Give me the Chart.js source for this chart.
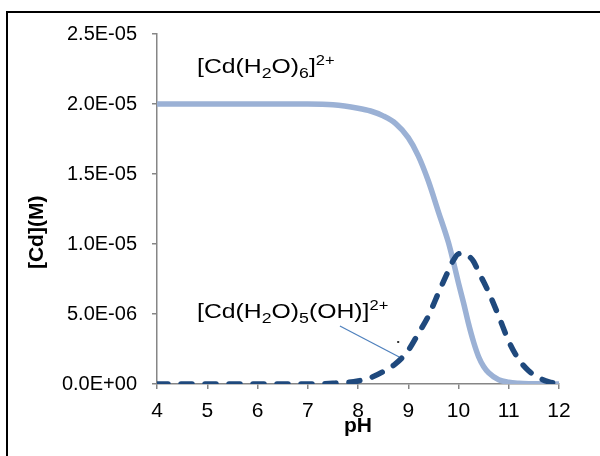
<!DOCTYPE html>
<html>
<head>
<meta charset="utf-8">
<title>Cd speciation vs pH</title>
<script src="https://cdn.jsdelivr.net/npm/chart.js@4.4.1/dist/chart.umd.min.js"></script>
<style>
  html, body { margin: 0; padding: 0; background: #fff; }
  #wrap { position: relative; width: 600px; height: 456px; overflow: hidden; }
  #frame { position: absolute; left: 6px; top: 11px; width: 700px; height: 600px; border-left: 2px solid #000; border-top: 2px solid #000; }
  canvas { position: absolute; left: 0; top: 0; }
  .lbl { position: absolute; font-family: "Liberation Sans", Arial, sans-serif; font-size: 21px; line-height: 21px; white-space: nowrap; color: #000; transform: scaleX(1.18); transform-origin: 0 0; }
  .lbl sub { font-size: 15px; vertical-align: -5px; line-height: 0; }
  .lbl sup { font-size: 14px; vertical-align: 8px; line-height: 0; }
</style>
</head>
<body>
<div id="wrap">
  <div id="frame"></div>
  <canvas id="cdChart" width="600" height="456"></canvas>
  <div class="lbl" id="lblHexa">[Cd(H<sub>2</sub>O)<sub>6</sub>]<sup>2+</sup></div>
  <div class="lbl" id="lblHydroxo">[Cd(H<sub>2</sub>O)<sub>5</sub>(OH)]<sup>2+</sup></div>
</div>
<script>
// values, concentrations in M
const phValues = [4, 5, 6, 7, 7.5, 8, 8.25, 8.5, 8.75, 9, 9.2, 9.4, 9.6, 9.8, 9.9, 10, 10.1, 10.2, 10.3, 10.4, 10.5, 10.6, 10.8, 11, 11.2, 11.4, 11.6, 11.8, 12];
const cdHexaAqua = [20.0e-6, 20.0e-6, 20.0e-6, 20.0e-6, 19.95e-6, 19.7e-6, 19.5e-6, 19.15e-6, 18.6e-6, 17.6e-6, 16.3e-6, 14.5e-6, 12.3e-6, 10.1e-6, 8.7e-6, 7.2e-6, 5.8e-6, 4.3e-6, 3.0e-6, 1.95e-6, 1.25e-6, 0.8e-6, 0.3e-6, 0.12e-6, 0.05e-6, 0.02e-6, 0.01e-6, 0, 0];
const cdHydroxo = [0, 0, 0, 0, 0.05e-6, 0.22e-6, 0.45e-6, 0.88e-6, 1.45e-6, 2.4e-6, 3.6e-6, 4.85e-6, 6.5e-6, 8.1e-6, 8.85e-6, 9.3e-6, 9.33e-6, 9.15e-6, 8.75e-6, 8.0e-6, 7.3e-6, 6.55e-6, 4.85e-6, 3.05e-6, 1.75e-6, 0.93e-6, 0.45e-6, 0.15e-6, 0.03e-6];

const xTicks = { min: 4, max: 12, step: 1 };
const yTicks = { min: 0, max: 2.5e-5, step: 5e-6 };

// annotation anchors [pH, M]
const hexaLabelAt = [4.8, 22.2e-6];
const hydroxoLabelAt = [4.8, 4.71e-6];
const leaderFrom = [7.64, 4.14e-6];
const leaderTo = [8.82, 1.93e-6];
const strayDot = [8.8, 3.0e-6];

const FONT = '"Liberation Sans", Arial, sans-serif';
const AXIS_GRAY = '#868686';

function sci(v) {
  const parts = Number(v).toExponential(1).split('e');
  const n = parseInt(parts[1], 10);
  return parts[0] + 'E' + (n < 0 ? '-' : '+') + String(Math.abs(n)).padStart(2, '0');
}

function toPoints(ys) {
  return phValues.map((x, i) => ({ x: x, y: ys[i] }));
}

const leaderPlugin = {
  id: 'leader',
  afterDatasetsDraw(chart) {
    const { ctx, scales: { x, y } } = chart;
    ctx.save();
    ctx.strokeStyle = '#4f81bd';
    ctx.lineWidth = 1.25;
    ctx.beginPath();
    ctx.moveTo(x.getPixelForValue(leaderFrom[0]), y.getPixelForValue(leaderFrom[1]));
    ctx.lineTo(x.getPixelForValue(leaderTo[0]), y.getPixelForValue(leaderTo[1]));
    ctx.stroke();
    ctx.fillStyle = '#333';
    ctx.fillRect(x.getPixelForValue(strayDot[0]) - 1, y.getPixelForValue(strayDot[1]) - 1, 2, 2);
    ctx.restore();
  }
};

const axisGrid = { display: true, drawOnChartArea: false, drawTicks: true, tickLength: 5, color: AXIS_GRAY, lineWidth: 1.5 };
const axisBorder = { display: true, color: AXIS_GRAY, width: 1.5 };

const chart = new Chart(document.getElementById('cdChart'), {
  type: 'line',
  data: {
    datasets: [
      {
        label: '[Cd(H2O)5(OH)]2+',
        data: toPoints(cdHydroxo),
        borderColor: '#1f497d',
        borderWidth: 5.5,
        borderDash: [11, 13],
        borderCapStyle: 'round',
        pointRadius: 0,
        cubicInterpolationMode: 'monotone',
        order: 1
      },
      {
        label: '[Cd(H2O)6]2+',
        data: toPoints(cdHexaAqua),
        borderColor: '#9bb1d5',
        borderWidth: 5.5,
        pointRadius: 0,
        cubicInterpolationMode: 'monotone',
        order: 2
      }
    ]
  },
  options: {
    responsive: false,
    animation: false,
    devicePixelRatio: 1,
    layout: { padding: { top: 34, right: 41, left: 0, bottom: 0 } },
    plugins: { legend: { display: false }, tooltip: { enabled: false } },
    scales: {
      x: {
        type: 'linear',
        min: xTicks.min,
        max: xTicks.max,
        ticks: { stepSize: xTicks.step, color: '#000', font: { family: FONT, size: 21 }, padding: 10 },
        grid: axisGrid,
        border: axisBorder,
        title: { display: true, text: 'pH', color: '#000', font: { family: FONT, size: 21, weight: 'bold' }, padding: { top: 0, bottom: 17 } },
        afterFit(s) { s.height = 72; }
      },
      y: {
        type: 'linear',
        min: yTicks.min,
        max: yTicks.max,
        ticks: { stepSize: yTicks.step, color: '#000', font: { family: FONT, size: 20 }, padding: 15, callback: v => sci(v) },
        grid: axisGrid,
        border: axisBorder,
        // trailing spaces push the title a bit below the axis middle, as in the original
        title: { display: true, text: '[Cd](M)' + '\u00a0'.repeat(8), color: '#000', font: { family: FONT, size: 21, weight: 'bold' }, padding: { top: 25, bottom: 0 } },
        afterFit(s) { s.width = 157; }
      }
    }
  },
  plugins: [leaderPlugin]
});

function placeLabel(id, at) {
  const el = document.getElementById(id);
  el.style.left = chart.scales.x.getPixelForValue(at[0]) + 'px';
  el.style.top = (chart.scales.y.getPixelForValue(at[1]) - 18) + 'px'; // anchor is the baseline
}
placeLabel('lblHexa', hexaLabelAt);
placeLabel('lblHydroxo', hydroxoLabelAt);
</script>
</body>
</html>
